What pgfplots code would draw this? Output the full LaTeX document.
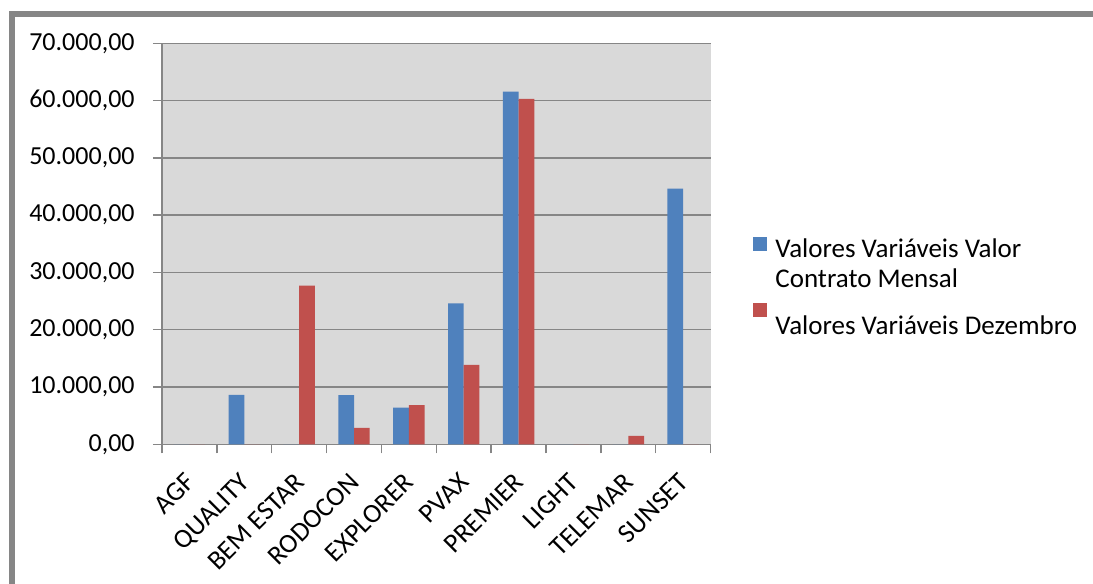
\documentclass[border=0pt]{standalone}
\usepackage{pgfplots}
\pgfplotsset{compat=1.18}
\usepackage{fontspec}
\setmainfont{Carlito}

\definecolor{serblue}{HTML}{4F81BD}
\definecolor{serred}{HTML}{C0504D}
\definecolor{plotbg}{HTML}{D9D9D9}
\definecolor{linegray}{HTML}{868686}

\begin{document}
\fontsize{13.5}{15}\selectfont
\begin{tikzpicture}
\useasboundingbox (0pt,0pt) rectangle (546.5pt,292pt);
% outer chart frame (only top and left edge visible in the crop)
\draw[line width=2.8pt, linegray] (6.1pt,-10pt) -- (6.1pt,284.9pt) -- (560pt,284.9pt);

\begin{axis}[
	at={(81pt,69.85pt)}, anchor=south west,
	scale only axis,
	width=274.3pt, height=200.5pt,
	axis background/.style={fill=plotbg},
	xmin=-0.5, xmax=9.5,
	ymin=0, ymax=70000,
	axis lines*=left,
	axis line style={linegray, line width=0.7pt},
	ymajorgrids,
	grid style={linegray, line width=0.7pt},
	ytick={0,10000,...,70000},
	scaled y ticks=false,
	yticklabel style={xshift=-4.5pt, font=\fontsize{13}{15}\selectfont,
		/pgf/number format/.cd, fixed, fixed zerofill, precision=2,
		use comma, 1000 sep={.}, assume math mode=true},
	xtick={0,...,9},
	xticklabels={AGF, QUALITY, BEM ESTAR, RODOCON, EXPLORER, PVAX, PREMIER, LIGHT, TELEMAR, SUNSET},
	major x tick style={draw=none},
	minor xtick={-0.5,0.5,...,9.5},
	tick align=outside,
	major tick length=4.5pt, minor tick length=4.5pt,
	every tick/.style={linegray, line width=0.7pt},
	xticklabel style={xshift=-3pt, yshift=-7.5pt, rotate=45, anchor=north east, inner sep=1pt},
	ybar=0pt,
	bar width=7.85pt,
	legend style={at={(1.0773,0.5194)}, anchor=north west, draw=none, fill=none,
		inner sep=0pt, nodes={inner sep=0pt}, row sep=0pt,
		/tikz/every odd column/.append style={column sep=4pt}},
	legend cell align=left,
	legend image code/.code={\fill[#1] (0pt,-1pt) rectangle (7pt,6pt);},
]

% Valores Variaveis Valor Contrato Mensal
\addplot[fill=serblue, draw=none]
	coordinates {(0,0) (1,8610) (2,0) (3,8600) (4,6390) (5,24620) (6,61570) (7,0) (8,0) (9,44630)};
\addlegendentry{\rule[-4.5pt]{0pt}{15pt}Valores Variáveis Valor}
\addlegendimage{empty legend}
\addlegendentry{\rule[-4.5pt]{0pt}{17.5pt}Contrato Mensal}

% Valores Variaveis Dezembro
\addplot[fill=serred, draw=none]
	coordinates {(0,0) (1,0) (2,27700) (3,2850) (4,6860) (5,13850) (6,60290) (7,0) (8,1450) (9,0)};
\addlegendentry{\rule[-4.5pt]{0pt}{26pt}Valores Variáveis Dezembro}
\end{axis}
\end{tikzpicture}
\end{document}
